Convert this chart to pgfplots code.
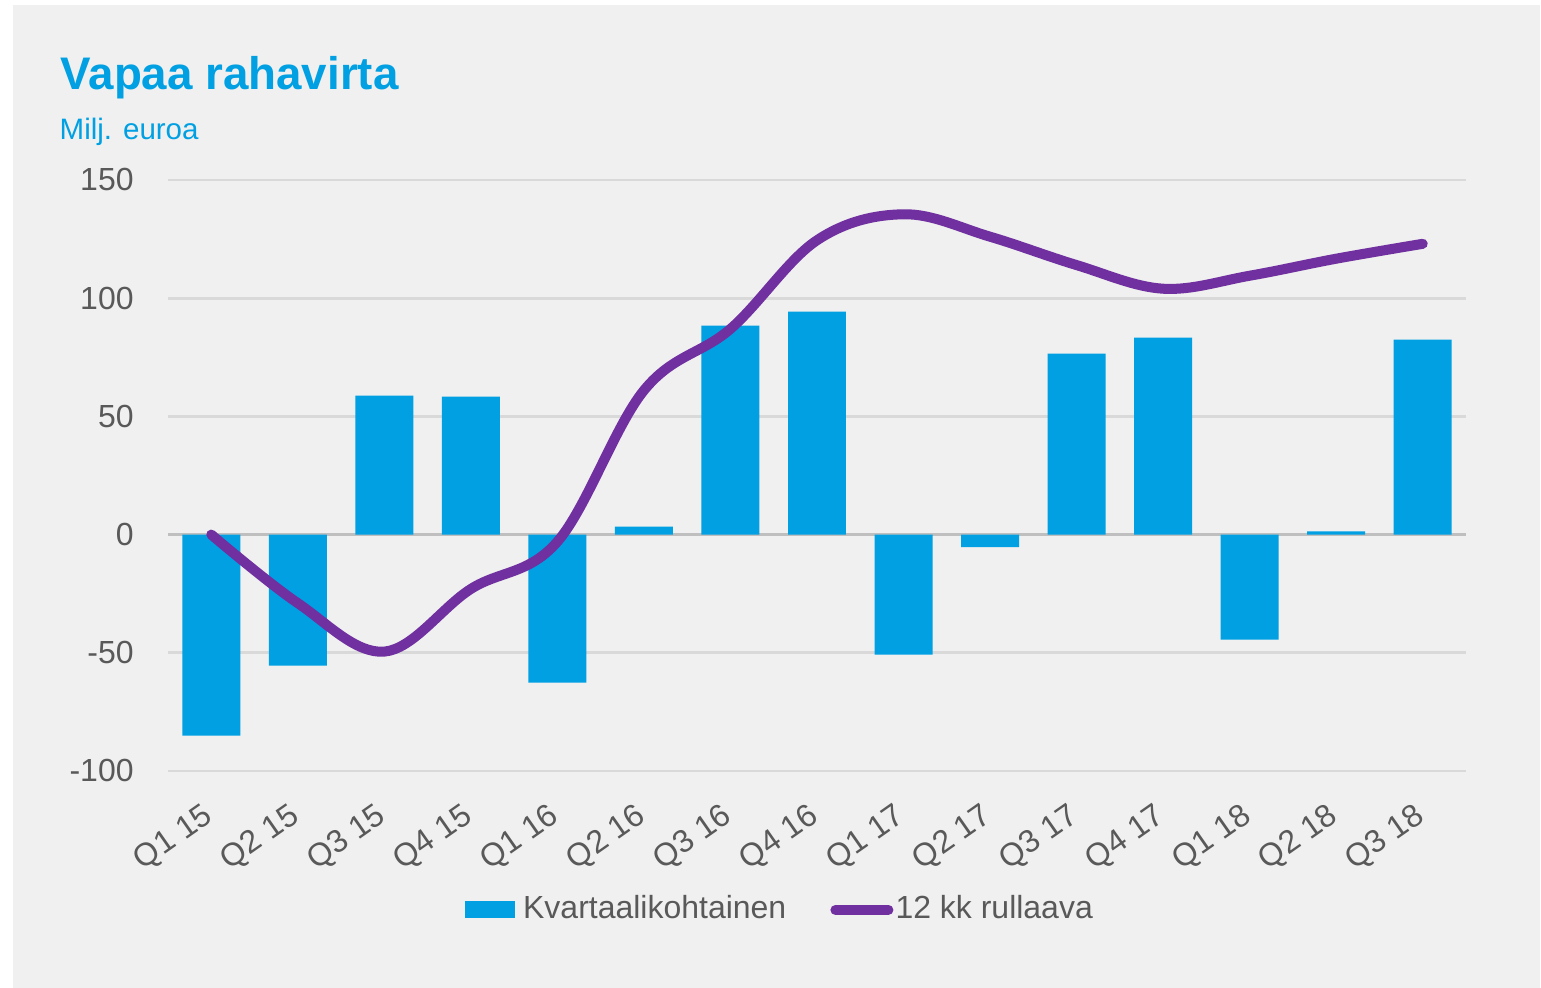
\documentclass[border=0pt]{standalone}
\usepackage{fontspec}
\setmainfont{Liberation Sans}
\usepackage{pgfplots}
\pgfplotsset{compat=1.18}

\definecolor{barblue}{RGB}{0,160,227}
\definecolor{linepurple}{RGB}{112,48,160}
\definecolor{txtgray}{RGB}{89,89,89}
\definecolor{bggray}{RGB}{240,240,240}
\definecolor{gridgray}{RGB}{217,217,217}
\definecolor{zerogray}{RGB}{191,191,191}

\begin{document}
\begin{tikzpicture}
% page 1541 x 988 px, 1 px = 0.1 mm
\path[use as bounding box] (0,0) rectangle (15.41,9.88);
\fill[white] (0,0) rectangle (15.41,9.88);
\fill[bggray] (0.13,0) rectangle (15.40,9.83);

\node[anchor=base west, inner sep=0pt, text=barblue, font=\fontsize{13}{15}\selectfont\bfseries]
  at (0.60,8.98) {Vapaa rahavirta};
\node[anchor=base west, inner sep=0pt, text=barblue, font=\fontsize{8.4}{10}\selectfont]
  at (0.59,8.48) {Milj. euroa};

\begin{axis}[
    at={(1.68cm,2.17cm)}, anchor=south west,
    scale only axis,
    width=12.98cm, height=5.91cm,
    xmin=-0.5, xmax=14.5,
    ymin=-100, ymax=150,
    ytick={-100,-50,0,50,100,150},
    xtick={0,...,14},
    xticklabels={Q1 15,Q2 15,Q3 15,Q4 15,Q1 16,Q2 16,Q3 16,Q4 16,Q1 17,Q2 17,Q3 17,Q4 17,Q1 18,Q2 18,Q3 18},
    axis line style={draw=none},
    major tick length=0pt,
    ymajorgrids,
    grid style={gridgray, line width=0.8pt},
    extra y ticks={0},
    extra y tick labels={},
    extra y tick style={grid style={zerogray, line width=0.8pt}},
    /pgf/number format/assume math mode=true,
    tick label style={font=\fontsize{9.1}{11}\selectfont, text=txtgray},
    yticklabel style={xshift=-0.22cm},
    xticklabel style={rotate=35, anchor=north east, inner sep=0pt, yshift=-0.19cm, xshift=-0.25cm},
    legend columns=2,
    legend style={at={(0.4715,-0.235)}, anchor=center, draw=none, fill=none,
        font=\fontsize{9.1}{11}\selectfont, text=txtgray,
        /tikz/every even column/.append style={column sep=0.42cm},
        nodes={inner sep=0.6pt}},
]
\addplot[ybar, bar width=0.67, bar shift=0pt, fill=barblue, draw=none,
    legend image code/.code={\fill[barblue] (0cm,-0.085cm) rectangle (0.5cm,0.085cm);}]
coordinates {
    (0,-85.0) (1,-55.4) (2,58.8) (3,58.4) (4,-62.6) (5,3.4) (6,88.4) (7,94.3)
    (8,-50.8) (9,-5.3) (10,76.6) (11,83.3) (12,-44.4) (13,1.4) (14,82.5)
};
\addlegendentry{\hspace{0.06cm}Kvartaalikohtainen}
\addplot[linepurple, line width=2.85pt, line cap=round, smooth, tension=0.6,
    legend image code/.code={\draw[linepurple, line width=2.85pt, line cap=round] (0.05cm,0cm) -- (0.58cm,0cm);}]
coordinates {
    (0,0) (1,-29) (2,-49.5) (3,-23) (4,-3) (5,61) (6,87) (7,124.5)
    (8,135.5) (9,126) (10,114) (11,104) (12,109.5) (13,116.7) (14,123)
};
\addlegendentry{12 kk rullaava}
\end{axis}
\end{tikzpicture}
\end{document}
